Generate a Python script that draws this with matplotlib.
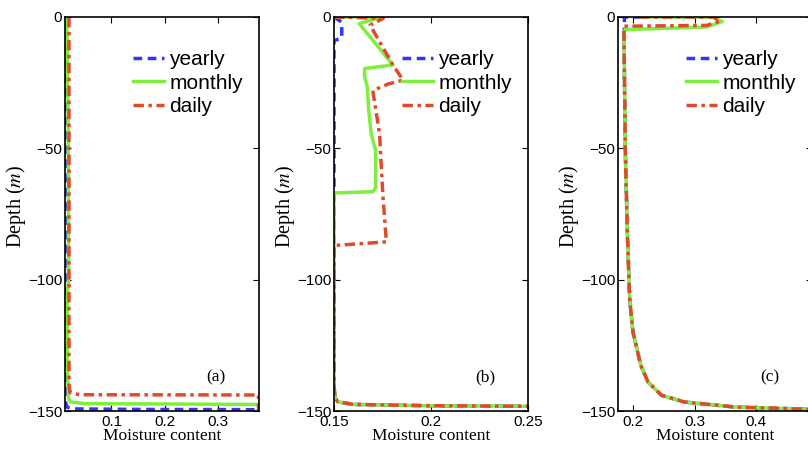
import matplotlib
matplotlib.use('Agg')
import matplotlib.pyplot as plt

plt.rcParams['mathtext.fontset'] = 'stix'
plt.rcParams['font.family'] = ['Liberation Sans', 'DejaVu Sans']

# ---- data (depth in m, moisture content) ----
# panel (a)
a_yearly_depth = [0, -20, -60, -100, -140, -146.5, -148.5, -149.2, -149.4, -149.5]
a_yearly_moist = [0.0135, 0.0135, 0.013, 0.013, 0.013, 0.0135, 0.016, 0.03, 0.15, 0.378]
a_monthly_depth = [0, -5, -10, -30, -60, -100, -106, -130, -145, -146.5, -147.2, -147.5]
a_monthly_moist = [0.014, 0.016, 0.017, 0.018, 0.019, 0.019, 0.017, 0.017, 0.019, 0.022, 0.05, 0.378]
a_daily_depth = [0, -20, -60, -100, -140, -143, -143.8, -143.9, -150]
a_daily_moist = [0.02, 0.02, 0.02, 0.02, 0.02, 0.022, 0.04, 0.377, 0.377]

# panel (b)
b_yearly_depth = [0, -2, -8, -9, -60, -140, -145, -146.5, -147.5, -148, -148.2]
b_yearly_moist = [0.15, 0.154, 0.154, 0.15, 0.15, 0.15, 0.1505, 0.152, 0.16, 0.2, 0.25]
b_monthly_depth = [0, 0, -2.5, -18.3, -19.6, -22.8, -26.7, -35.6, -44.6, -51, -65, -66.5, -67,
                   -140, -145, -146.5, -147.5, -148, -148.2]
b_monthly_moist = [0.15, 0.175, 0.163, 0.1804, 0.1658, 0.1658, 0.1672, 0.1679, 0.1692, 0.1715, 0.1715,
                   0.17, 0.15, 0.15, 0.1505, 0.152, 0.16, 0.2, 0.25]
b_daily_depth = [0, -0.5, -3.1, -18.3, -24, -25.5, -28, -44.6, -57.4, -69, -85.6, -87,
                 -140, -145, -146.5, -147.5, -148, -148.2]
b_daily_moist = [0.15, 0.1754, 0.1686, 0.1804, 0.1856, 0.178, 0.170, 0.1735, 0.1744, 0.1753, 0.177, 0.15,
                 0.15, 0.1505, 0.152, 0.16, 0.2, 0.25]

# panel (c)
c_curve_depth = [-6.7, -50.8, -82, -107.6, -120, -132.5, -139, -144, -146.6, -148.5, -149.4]
c_curve_moist = [0.1853, 0.1875, 0.1908, 0.1946, 0.2, 0.2125, 0.2245, 0.2462, 0.284, 0.366, 0.495]
c_yearly_depth = [0, 0, -2, -4.8] + c_curve_depth
c_yearly_moist = [0.215, 0.186, 0.186, 0.186] + c_curve_moist
c_monthly_depth = [0, 0, -1.7, -3.8, -4.8] + c_curve_depth
c_monthly_moist = [0.215, 0.33, 0.345, 0.32, 0.187] + c_curve_moist
c_daily_depth = [0, 0, -1.5, -3.2, -3.5] + c_curve_depth
c_daily_moist = [0.21, 0.33, 0.342, 0.32, 0.186] + c_curve_moist

panels = [
    ((a_yearly_moist, a_yearly_depth), (a_monthly_moist, a_monthly_depth), (a_daily_moist, a_daily_depth)),
    ((b_yearly_moist, b_yearly_depth), (b_monthly_moist, b_monthly_depth), (b_daily_moist, b_daily_depth)),
    ((c_yearly_moist, c_yearly_depth), (c_monthly_moist, c_monthly_depth), (c_daily_moist, c_daily_depth)),
]
xlims = [(0.0125, 0.378), (0.15, 0.25), (0.1756, 0.491)]
xticks = [[0.1, 0.2, 0.3], [0.15, 0.2, 0.25], [0.2, 0.3, 0.4]]
xticklabels = [['0.1', '0.2', '0.3'], ['0.15', '0.2', '0.25'], ['0.2', '0.3', '0.4']]
letters = ['(a)', '(b)', '(c)']
lefts = [65, 334, 618]

W, H = 808, 449
fig = plt.figure(figsize=(W / 100, H / 100), dpi=100)
serif = ['Liberation Serif', 'DejaVu Serif']

for i, (yr, mo, da) in enumerate(panels):
    ax = fig.add_axes([lefts[i] / W, 1 - 411 / H, 194 / W, 394 / H])
    ax.plot(yr[0], yr[1], '--', color='#3333ff', lw=2.5, label='yearly', dashes=(2.5, 1.6))
    ax.plot(mo[0], mo[1], '-', color='#7fee3f', lw=2.5, label='monthly')
    ax.plot(da[0], da[1], '-.', color='#e04a2c', lw=2.5, label='daily', dashes=(3, 1.3, 1, 1.3))
    ax.set_xlim(xlims[i])
    ax.set_ylim(-150, 0)
    ax.set_yticks([0, -50, -100, -150])
    ax.set_yticklabels(['0', '\u221250', '\u2212100', '\u2212150'])
    ax.set_xticks(xticks[i])
    ax.set_xticklabels(xticklabels[i])
    ax.tick_params(direction='in', top=True, right=True, labelsize=11, length=4, width=0.8, pad=3)
    ax.tick_params(axis='y', pad=2)
    for s in ax.spines.values():
        s.set_linewidth(1.2)
    ax.set_ylabel(r'Depth ($m$)', family=serif, fontsize=14.5)
    ax.yaxis.set_label_coords(-0.19, 0.52)
    ax.set_xlabel('Moisture content', family=serif, fontsize=12.5, labelpad=-1)
    ax.text(0.78, 0.085, letters[i], transform=ax.transAxes, family=serif, fontsize=12.5,
            ha='center', va='center')
    ax.legend(loc='upper left', bbox_to_anchor=(0.35, 0.915), frameon=False, fontsize=15,
              handlelength=1.5, handletextpad=0.25, labelspacing=0.2, borderaxespad=0, borderpad=0)

fig.savefig('out.png', dpi=100)
